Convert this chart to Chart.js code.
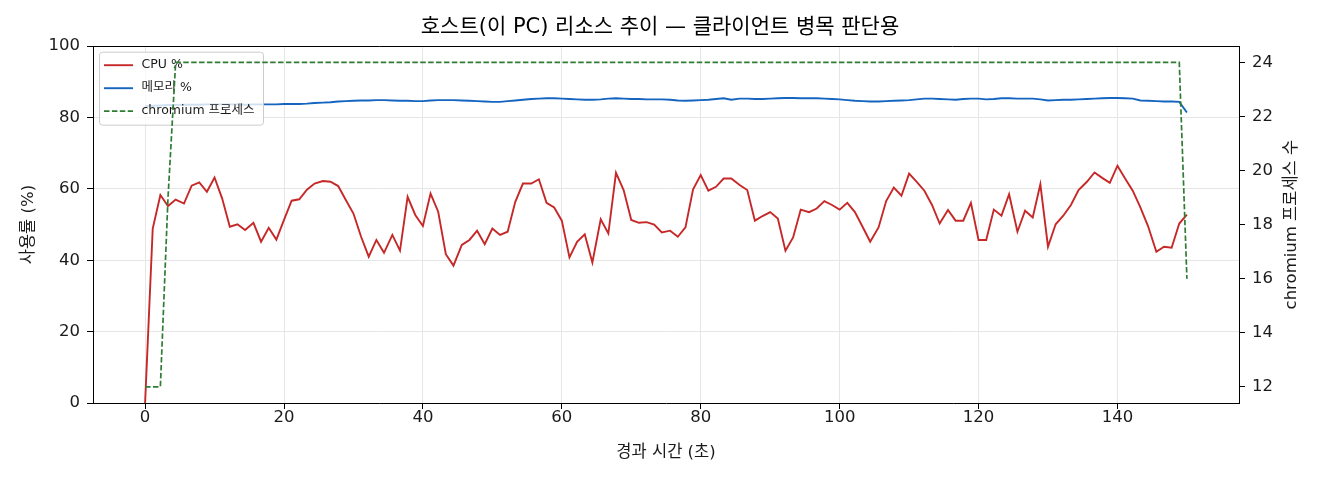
<!DOCTYPE html>
<html>
<head>
<meta charset="utf-8">
<script src="https://cdn.jsdelivr.net/npm/chart.js@4.4.1/dist/chart.umd.min.js"></script>
<style>
  html, body { margin: 0; padding: 0; background: #fff; }
</style>
</head>
<body>
<canvas id="hostChart" width="1320" height="480"></canvas>
<script>
// elapsed seconds for each sample
const times = [
    0, 1.1, 2.2, 3.3, 4.4, 5.6, 6.7, 7.8, 8.9,
    10, 11.1, 12.2, 13.3, 14.4, 15.6, 16.7, 17.8, 18.9,
    20, 21.1, 22.2, 23.3, 24.4, 25.6, 26.7, 27.8, 28.9,
    30, 31.1, 32.2, 33.3, 34.4, 35.6, 36.7, 37.8, 38.9,
    40, 41.1, 42.2, 43.3, 44.4, 45.6, 46.7, 47.8, 48.9,
    50, 51.1, 52.2, 53.3, 54.4, 55.6, 56.7, 57.8, 58.9,
    60, 61.1, 62.2, 63.3, 64.4, 65.6, 66.7, 67.8, 68.9,
    70, 71.1, 72.2, 73.3, 74.4, 75.6, 76.7, 77.8, 78.9,
    80, 81.1, 82.2, 83.3, 84.4, 85.6, 86.7, 87.8, 88.9,
    90, 91.1, 92.2, 93.3, 94.4, 95.6, 96.7, 97.8, 98.9,
    100, 101.1, 102.2, 103.3, 104.4, 105.6, 106.7, 107.8, 108.9,
    110, 111.1, 112.2, 113.3, 114.4, 115.6, 116.7, 117.8, 118.9,
    120, 121.1, 122.2, 123.3, 124.4, 125.6, 126.7, 127.8, 128.9,
    130, 131.1, 132.2, 133.3, 134.4, 135.6, 136.7, 137.8, 138.9,
    140, 141.1, 142.2, 143.3, 144.4, 145.6, 146.7, 147.8, 148.9,
    150
];

const cpuPct = [
    0, 48.9, 58.3, 55.2, 57.0, 55.9, 60.9, 61.8, 59.2,
    63.2, 57.3, 49.4, 50.1, 48.5, 50.5, 45.2, 49.1, 45.8,
    51.3, 56.7, 57.1, 59.8, 61.5, 62.2, 62.0, 60.8, 56.9,
    53.1, 46.6, 41.0, 45.7, 42.1, 47.1, 42.7, 57.8, 52.7,
    49.6, 58.7, 53.6, 41.7, 38.5, 44.3, 45.7, 48.3, 44.5,
    48.9, 47.1, 48.0, 56.4, 61.5, 61.5, 62.7, 56.1, 54.8,
    51.1, 40.8, 45.2, 47.3, 39.4, 51.5, 47.5, 64.5, 59.7,
    51.3, 50.5, 50.7, 50.0, 47.8, 48.3, 46.6, 49.2, 59.9,
    63.9, 59.5, 60.6, 62.9, 62.9, 61.1, 59.7, 51.1, 52.4,
    53.5, 51.7, 42.7, 46.4, 54.2, 53.5, 54.5, 56.6, 55.5,
    54.2, 56.1, 53.5, 49.4, 45.2, 49.2, 56.6, 60.4, 58.1,
    64.3, 62.0, 59.5, 55.5, 50.3, 54.1, 51.1, 51.1, 56.1,
    45.7, 45.7, 54.2, 52.5, 58.5, 48.0, 53.9, 52.0, 61.3,
    43.8, 50.1, 52.5, 55.5, 59.7, 62.0, 64.6, 63.1, 61.7,
    66.5, 62.9, 59.5, 54.8, 49.6, 42.4, 43.8, 43.5, 50.3,
    52.8
];

const memPct = [
    83.2, 83.3, 83.4, 83.5, 83.5, 83.6, 83.6, 83.6, 83.7,
    83.7, 83.7, 83.7, 83.7, 83.6, 83.7, 83.7, 83.7, 83.7,
    83.8, 83.8, 83.8, 83.9, 84.1, 84.2, 84.3, 84.5, 84.6,
    84.7, 84.8, 84.8, 84.9, 84.9, 84.8, 84.7, 84.7, 84.6,
    84.6, 84.8, 84.9, 84.9, 84.9, 84.8, 84.7, 84.6, 84.5,
    84.4, 84.4, 84.6, 84.8, 85.0, 85.2, 85.3, 85.4, 85.4,
    85.3, 85.2, 85.1, 85.0, 85.0, 85.1, 85.3, 85.4, 85.3,
    85.2, 85.2, 85.1, 85.1, 85.1, 85.0, 84.8, 84.7, 84.8,
    84.9, 85.0, 85.2, 85.4, 85.0, 85.3, 85.3, 85.2, 85.2,
    85.3, 85.4, 85.5, 85.5, 85.4, 85.4, 85.4, 85.3, 85.2,
    85.1, 84.9, 84.7, 84.6, 84.5, 84.5, 84.6, 84.7, 84.8,
    84.9, 85.1, 85.3, 85.3, 85.2, 85.1, 85.0, 85.2, 85.3,
    85.3, 85.1, 85.2, 85.4, 85.4, 85.3, 85.3, 85.3, 85.1,
    84.8, 84.9, 85.0, 85.0, 85.1, 85.2, 85.3, 85.4, 85.5,
    85.5, 85.4, 85.3, 84.8, 84.7, 84.6, 84.5, 84.5, 84.4,
    81.4
];

const chromiumProcs = [
    12, 12, 12, 19, 24, 24, 24, 24, 24,
    24, 24, 24, 24, 24, 24, 24, 24, 24,
    24, 24, 24, 24, 24, 24, 24, 24, 24,
    24, 24, 24, 24, 24, 24, 24, 24, 24,
    24, 24, 24, 24, 24, 24, 24, 24, 24,
    24, 24, 24, 24, 24, 24, 24, 24, 24,
    24, 24, 24, 24, 24, 24, 24, 24, 24,
    24, 24, 24, 24, 24, 24, 24, 24, 24,
    24, 24, 24, 24, 24, 24, 24, 24, 24,
    24, 24, 24, 24, 24, 24, 24, 24, 24,
    24, 24, 24, 24, 24, 24, 24, 24, 24,
    24, 24, 24, 24, 24, 24, 24, 24, 24,
    24, 24, 24, 24, 24, 24, 24, 24, 24,
    24, 24, 24, 24, 24, 24, 24, 24, 24,
    24, 24, 24, 24, 24, 24, 24, 24, 24,
    16
];

const xTicks = [0, 20, 40, 60, 80, 100, 120, 140];
const pctTicks = [0, 20, 40, 60, 80, 100];
const procTicks = [12, 14, 16, 18, 20, 22, 24];

const FONT = "'DejaVu Sans', 'Noto Sans CJK KR', sans-serif";
const GRID = '#e6e6e6';
const INK = '#1a1a1a';
const rightTitle = 'chromium 프로세스 수';

function toPoints(values) {
    return times.map((t, i) => ({ x: t, y: values[i] }));
}

// legend box sits inside the plot, over cpu/memory but under the chromium line
const innerLegend = {
    id: 'innerLegend',
    afterDatasetDraw(chart, args) {
        if (args.index !== 1) return;
        const { ctx, chartArea } = chart;
        const x = chartArea.left + 6, y = chartArea.top + 5.5, w = 164, h = 73;
        ctx.save();
        ctx.beginPath();
        ctx.roundRect(x + 0.5, y + 0.5, w, h, 3);
        ctx.fillStyle = 'rgba(255,255,255,0.8)';
        ctx.fill();
        ctx.strokeStyle = '#cccccc';
        ctx.lineWidth = 1;
        ctx.stroke();
        chart.data.datasets.forEach((ds, i) => {
            const ly = y + 13.5 + i * 23;
            ctx.beginPath();
            ctx.setLineDash(ds.borderDash || []);
            ctx.strokeStyle = ds.borderColor;
            ctx.lineWidth = ds.borderWidth;
            ctx.moveTo(x + 5, ly);
            ctx.lineTo(x + 34, ly);
            ctx.stroke();
            ctx.setLineDash([]);
            ctx.fillStyle = INK;
            ctx.font = '12.5px ' + FONT;
            ctx.textBaseline = 'middle';
            ctx.fillText(ds.label, x + 42.5, ly);
        });
        ctx.restore();
    }
};

// top spine + right axis title (reads bottom to top like the left one)
const frameExtras = {
    id: 'frameExtras',
    afterDraw(chart) {
        const { ctx, chartArea } = chart;
        ctx.save();
        ctx.strokeStyle = '#000';
        ctx.lineWidth = 1;
        ctx.beginPath();
        ctx.moveTo(chartArea.left, Math.round(chartArea.top) + 0.5);
        ctx.lineTo(chartArea.right, Math.round(chartArea.top) + 0.5);
        ctx.stroke();
        ctx.translate(1292, (chartArea.top + chartArea.bottom) / 2);
        ctx.rotate(-Math.PI / 2);
        ctx.fillStyle = INK;
        ctx.font = '16.5px ' + FONT;
        ctx.textAlign = 'center';
        ctx.textBaseline = 'middle';
        ctx.fillText(rightTitle, 0, 0);
        ctx.restore();
    }
};

const tickFont = { family: FONT, size: 16.5, lineHeight: 1 };
const labelFont = { family: FONT, size: 16.5 };

const hostChart = new Chart(document.getElementById('hostChart'),
    {
        type: 'line',
        data:
        {
            datasets:
            [
                {
                    label: 'CPU %',
                    data: toPoints(cpuPct),
                    borderColor: '#c62828',
                    borderWidth: 1.9,
                    yAxisID: 'y',
                    order: 3
                },
                {
                    label: '메모리 %',
                    data: toPoints(memPct),
                    borderColor: '#1565c0',
                    borderWidth: 1.9,
                    yAxisID: 'y',
                    order: 2
                },
                {
                    label: 'chromium 프로세스',
                    data: toPoints(chromiumProcs),
                    borderColor: '#2e7d32',
                    borderWidth: 1.7,
                    borderDash: [5.5, 2.4],
                    yAxisID: 'y2',
                    order: 1
                }
            ]
        },
        options:
        {
            responsive: false,
            animation: false,
            devicePixelRatio: 1,
            elements:
            {
                point: { radius: 0 },
                line: { tension: 0, fill: false }
            },
            layout: { padding: 0 },
            scales:
            {
                x:
                {
                    type: 'linear',
                    min: -7.5,
                    max: 157.5,
                    afterBuildTicks: (s) => { s.ticks = xTicks.map(v => ({ value: v })); },
                    afterFit: (s) => { s.height = 77; },
                    ticks: { font: tickFont, color: INK, padding: 0, maxRotation: 0, autoSkip: false },
                    grid: { color: GRID, tickColor: '#000', tickLength: 6 },
                    border: { display: true, color: '#000', width: 1 },
                    title: { display: true, text: '경과 시간 (초)', font: labelFont, color: INK, padding: { top: 0, bottom: 17 } }
                },
                y:
                {
                    position: 'left',
                    min: 0,
                    max: 100,
                    afterBuildTicks: (s) => { s.ticks = pctTicks.map(v => ({ value: v })); },
                    afterFit: (s) => { s.width = 93; },
                    ticks: { font: tickFont, color: INK, padding: 7 },
                    grid: { color: GRID, tickColor: '#000', tickLength: 6 },
                    border: { display: true, color: '#000', width: 1 },
                    title: { display: true, text: '사용률 (%)', font: labelFont, color: INK, padding: { top: 19, bottom: 0 } }
                },
                y2:
                {
                    position: 'right',
                    min: 11.4,
                    max: 24.6,
                    afterBuildTicks: (s) => { s.ticks = procTicks.map(v => ({ value: v })); },
                    afterFit: (s) => { s.width = 81; },
                    ticks: { font: tickFont, color: INK, padding: 7 },
                    grid: { drawOnChartArea: false, tickColor: '#000', tickLength: 6 },
                    border: { display: true, color: '#000', width: 1 },
                    title: { display: false }
                }
            },
            plugins:
            {
                legend: { display: false },
                tooltip: { enabled: false },
                title:
                {
                    display: true,
                    text: '호스트(이 PC) 리소스 추이 — 클라이언트 병목 판단용',
                    font: { family: FONT, size: 21, weight: 'normal' },
                    color: '#000',
                    padding: { top: 15, bottom: 6 }
                }
            }
        },
        plugins: [innerLegend, frameExtras]
    });
</script>
</body>
</html>
